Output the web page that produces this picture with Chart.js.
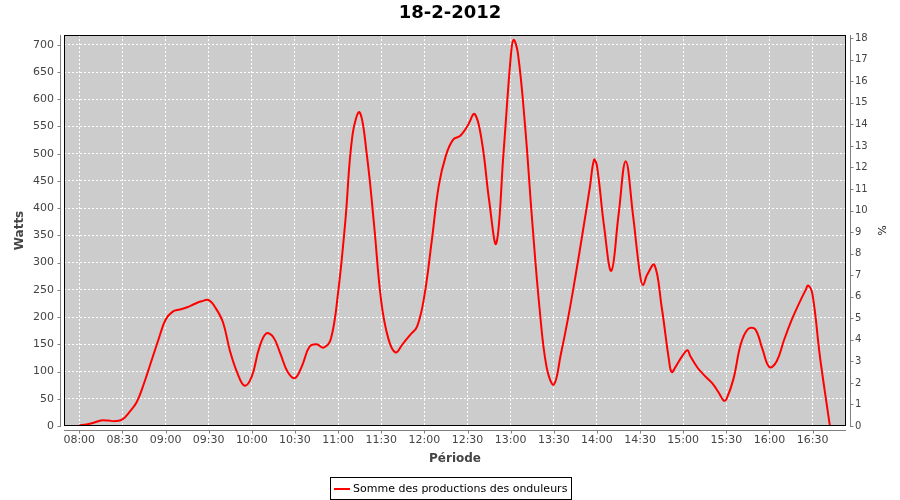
<!DOCTYPE html>
<html>
<head>
<meta charset="utf-8">
<script src="https://cdn.jsdelivr.net/npm/chart.js@4.4.1/dist/chart.umd.min.js"></script>
<style>
  html, body { margin: 0; padding: 0; background: #fff; }
</style>
</head>
<body>
<canvas id="prodChart" width="900" height="500"></canvas>
<script>
// relevés de la journée (heure, watts)
const times = [
  '08:00','08:05','08:10','08:15','08:20','08:25','08:30','08:35','08:40','08:45','08:50','08:55',
  '09:00','09:05','09:10','09:15','09:20','09:25','09:30','09:35','09:40','09:45','09:50','09:55',
  '10:00','10:05','10:10','10:15','10:20','10:25','10:30','10:35','10:40','10:45','10:50','10:55',
  '11:00','11:05','11:10','11:15','11:20','11:25','11:30','11:35','11:40','11:45','11:50','11:55',
  '12:00','12:05','12:10','12:15','12:20','12:25','12:30','12:35','12:40','12:45','12:50','12:55',
  '13:00','13:02','13:05','13:10','13:15','13:20','13:25','13:30','13:35','13:40','13:45','13:50','13:55','13:58',
  '14:00','14:05','14:10','14:15','14:20','14:25','14:30','14:32','14:35','14:40','14:45','14:50','14:52','14:55',
  '15:00','15:03','15:05','15:10','15:15','15:20','15:25','15:28','15:30','15:35','15:40','15:45','15:50','15:55',
  '16:00','16:05','16:10','16:15','16:20','16:25','16:27','16:30','16:35','16:40','16:42'
];
const watts = [
  1, 3, 6, 10, 10, 9, 12, 26, 44, 78, 118, 158,
  195, 210, 214, 218, 224, 229, 231, 216, 190, 136, 97, 74,
  91, 142, 170, 163, 132, 99, 88, 111, 145, 150, 144, 160,
  245, 375, 534, 576, 498, 370, 229, 160, 135, 151, 167, 183,
  239, 337, 441, 497, 526, 533, 551, 573, 522, 415, 335, 500,
  676, 709, 685, 552, 376, 219, 108, 76, 133, 199, 274, 354, 437, 489,
  478, 366, 285, 387, 486, 389, 277, 259, 278, 296, 219, 123, 99, 110,
  131, 139, 128, 107, 92, 79, 60, 47, 49, 87, 150, 178, 178, 142,
  108, 119, 157, 192, 222, 249, 258, 240, 129, 36, 0
];
const seriesLabel = 'Somme des productions des onduleurs';

const toMin = t => Number(t.slice(0, 2)) * 60 + Number(t.slice(3));
const fmtTime = v => String(Math.floor(v / 60)).padStart(2, '0') + ':' + String(Math.round(v % 60)).padStart(2, '0');

Chart.defaults.font.family = '"DejaVu Sans", sans-serif';

const tickFont = { family: '"DejaVu Sans", sans-serif', size: 11 };
const axisTitleFont = { family: '"DejaVu Sans", sans-serif', size: 12, weight: 'bold' };

// fond gris, cadre noir, axes décalés et légende encadrée
const plotFrame = {
  id: 'plotFrame',
  beforeDraw(chart) {
    const { ctx, chartArea: a } = chart;
    ctx.save();
    ctx.fillStyle = '#cccccc';
    ctx.fillRect(a.left, a.top, a.right - a.left, a.bottom - a.top);
    ctx.restore();
  },
  afterDraw(chart) {
    const { ctx, chartArea: a, scales } = chart;
    ctx.save();
    ctx.lineWidth = 1;
    ctx.strokeStyle = '#000';
    ctx.strokeRect(a.left + 0.5, a.top + 0.5, a.right - a.left - 1, a.bottom - a.top - 1);

    ctx.strokeStyle = '#808080';
    ctx.beginPath();
    const lx = a.left - 3.5, rx = a.right + 4.5, by = a.bottom + 4.5;
    ctx.moveTo(lx, a.top); ctx.lineTo(lx, a.bottom + 1);
    ctx.moveTo(rx, a.top); ctx.lineTo(rx, a.bottom + 1);
    ctx.moveTo(a.left, by); ctx.lineTo(a.right, by);
    scales.y.ticks.forEach((t, i) => {
      const py = Math.round(scales.y.getPixelForTick(i)) + 0.5;
      ctx.moveTo(lx - 3, py); ctx.lineTo(lx, py);
    });
    scales.y1.ticks.forEach((t, i) => {
      const py = Math.round(scales.y1.getPixelForTick(i)) + 0.5;
      ctx.moveTo(rx, py); ctx.lineTo(rx + 3, py);
    });
    scales.x.ticks.forEach((t, i) => {
      const px = Math.round(scales.x.getPixelForTick(i)) + 0.5;
      ctx.moveTo(px, by); ctx.lineTo(px, by + 3);
    });
    ctx.stroke();

    // légende
    ctx.font = '11px "DejaVu Sans", sans-serif';
    const tw = ctx.measureText(seriesLabel).width;
    const bw = Math.round(tw + 27);
    const bx = Math.round(chart.width / 2 - bw / 2);
    const byl = 477;
    ctx.strokeStyle = '#000';
    ctx.strokeRect(bx + 0.5, byl + 0.5, bw, 22);
    ctx.strokeStyle = '#ff0000';
    ctx.lineWidth = 2;
    ctx.beginPath();
    ctx.moveTo(bx + 4, byl + 12); ctx.lineTo(bx + 20, byl + 12);
    ctx.stroke();
    ctx.fillStyle = '#000';
    ctx.textBaseline = 'middle';
    ctx.textAlign = 'left';
    ctx.fillText(seriesLabel, bx + 23, byl + 12);
    ctx.restore();
  }
};

new Chart(document.getElementById('prodChart'), {
  type: 'line',
  data: {
    datasets: [{
      label: seriesLabel,
      data: times.map((t, i) => ({ x: toMin(t), y: watts[i] })),
      borderColor: '#ff0000',
      borderWidth: 2,
      pointRadius: 0,
      tension: 0.4,
      fill: false,
      yAxisID: 'y'
    }]
  },
  options: {
    responsive: false,
    animation: false,
    layout: { padding: { left: 0, right: 0, top: 0, bottom: 29 } },
    plugins: {
      legend: { display: false },
      tooltip: { enabled: false },
      title: {
        display: true,
        text: '18-2-2012',
        color: '#000',
        font: { family: '"DejaVu Sans", sans-serif', size: 18, weight: 'bold' },
        padding: { top: 2.5, bottom: 10.9 }
      }
    },
    scales: {
      x: {
        type: 'linear',
        min: 469.4,
        max: 1013.2,
        afterFit: s => { s.height = 45; },
        grid: { color: '#ffffff', drawTicks: false },
        border: { display: false, dash: [2, 2] },
        ticks: {
          stepSize: 30,
          includeBounds: false,
          autoSkip: false,
          maxRotation: 0,
          padding: 8,
          color: '#444',
          font: tickFont,
          callback: v => fmtTime(v)
        },
        title: {
          display: true,
          text: 'Période',
          color: '#444',
          font: axisTitleFont,
          padding: { top: 0, bottom: 5 }
        }
      },
      y: {
        position: 'left',
        min: 0,
        max: 718,
        afterFit: s => { s.width = 64; },
        grid: { color: '#ffffff', drawTicks: false },
        border: { display: false, dash: [2, 2] },
        ticks: { stepSize: 50, includeBounds: false, padding: 10, color: '#444', font: tickFont },
        title: {
          display: true,
          text: 'Watts',
          color: '#444',
          font: axisTitleFont,
          padding: { top: 13, bottom: 0 }
        }
      },
      y1: {
        position: 'right',
        min: 0,
        max: 18.15,
        afterFit: s => { s.width = 54; },
        grid: { display: false, drawTicks: false },
        border: { display: false },
        ticks: { stepSize: 1, includeBounds: false, padding: 9, color: '#444', font: { family: '"DejaVu Sans", sans-serif', size: 10 } },
        title: {
          display: true,
          text: '%',
          color: '#222',
          font: { family: '"DejaVu Sans", sans-serif', size: 11 },
          padding: { top: 13, bottom: 0 }
        }
      }
    }
  },
  plugins: [plotFrame]
});
</script>
</body>
</html>
